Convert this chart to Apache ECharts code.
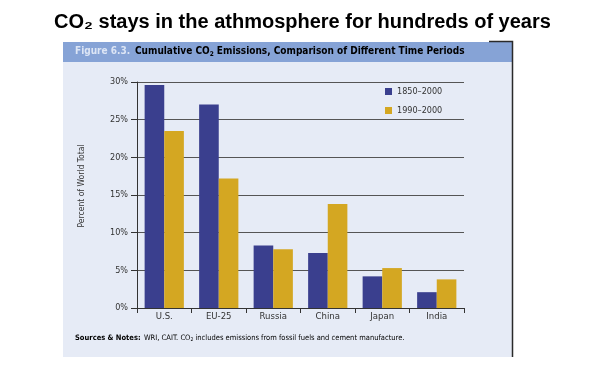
<!DOCTYPE html>
<html>
<head>
<meta charset="utf-8">
<script src="https://cdn.jsdelivr.net/npm/echarts@6/dist/echarts.min.js"></script>
<style>
html,body{margin:0;padding:0;background:#fff;}
#chart{width:605px;height:368px;}
</style>
</head>
<body>
<div id="chart"></div>
<script>
var categories = ['U.S.', 'EU-25', 'Russia', 'China', 'Japan', 'India'];
var seriesNames = ['1850\u20132000', '1990\u20132000'];
var values1850 = [29.6, 27.0, 8.3, 7.3, 4.2, 2.1];
var values1990 = [23.5, 17.2, 7.8, 13.8, 5.3, 3.8];
var yTicks = [0, 5, 10, 15, 20, 25, 30];

var FONT = '"Liberation Sans Narrow", "DejaVu Sans Condensed", "Liberation Sans", sans-serif';
var chart = echarts.init(document.getElementById('chart'), null, {renderer: 'canvas'});

var option = {
  backgroundColor: '#ffffff',
  animation: false,
  title: {
    text: 'CO\u2082 stays in the athmosphere for hundreds of years',
    left: 'center',
    top: 7,
    textStyle: {fontFamily: '"Liberation Sans", Arial, sans-serif', fontWeight: 'bold', fontSize: 20, color: '#000'}
  },
  graphic: [
    {type: 'rect', z: -10, shape: {x: 63, y: 42, width: 449, height: 315}, style: {fill: '#e6ebf6'}},
    {type: 'rect', z: -9, shape: {x: 63, y: 42, width: 449, height: 20}, style: {fill: '#86a3d6'}},
    {type: 'polyline', z: -8, shape: {points: [[489, 41.5], [512.5, 41.5], [512.5, 357]]}, style: {stroke: '#2a2a2a', lineWidth: 1.5, fill: null}},
    {type: 'text', z: 5, left: 75, top: 46.5, style: {text: 'Figure 6.3.', font: 'bold 10px ' + FONT, fill: '#dce5f5'}},
    {type: 'text', z: 5, left: 135, top: 46.5, style: {
      text: '{a|Cumulative CO}{s|2}{a| Emissions, Comparison of Different Time Periods}',
      rich: {
        a: {fontFamily: FONT, fontWeight: 'bold', fontSize: 10, color: '#1c2a5c'},
        s: {fontFamily: FONT, fontWeight: 'bold', fontSize: 6.5, color: '#1c2a5c', padding: [5, 0, 0, 0]}
      }
    }},
    {type: 'text', z: 5, left: 75, top: 332, style: {
      text: '{b|Sources & Notes:} {a|WRI, CAIT. CO}{s|2}{a| includes emissions from fossil fuels and cement manufacture.}',
      rich: {
        b: {fontFamily: FONT, fontWeight: 'bold', fontSize: 7.5, color: '#222'},
        a: {fontFamily: FONT, fontSize: 7.5, color: '#222'},
        s: {fontFamily: FONT, fontSize: 5, color: '#222', padding: [4, 0, 0, 0]}
      }
    }}
  ],
  legend: {
    data: seriesNames,
    orient: 'vertical',
    left: 385,
    top: 87,
    padding: 0,
    itemWidth: 7,
    itemHeight: 7,
    itemGap: 10,
    icon: 'rect',
    textStyle: {fontFamily: FONT, fontSize: 9, color: '#333'}
  },
  grid: {left: 137, right: 141, top: 82, bottom: 60, containLabel: false},
  xAxis: {
    type: 'category',
    data: categories,
    axisLine: {show: true, lineStyle: {color: '#333', width: 1}},
    axisTick: {show: true, length: 5, lineStyle: {color: '#333'}, alignWithLabel: false},
    axisLabel: {fontFamily: FONT, fontSize: 9.5, color: '#333', margin: 4}
  },
  yAxis: {
    type: 'value',
    min: 0,
    max: 30,
    interval: 5,
    name: 'Percent of World Total',
    nameLocation: 'middle',
    nameGap: 51,
    nameTextStyle: {fontFamily: FONT, fontSize: 8.5, color: '#333', padding: [0, 0, 0, 18]},
    axisLine: {show: true, lineStyle: {color: '#333', width: 1}},
    axisTick: {show: true, length: 6, lineStyle: {color: '#333'}},
    axisLabel: {fontFamily: FONT, fontSize: 9, color: '#333', margin: 9,
      formatter: function (v) { return yTicks.indexOf(v) >= 0 ? v + '%' : ''; }},
    splitLine: {show: true, lineStyle: {color: '#555', width: 1}}
  },
  series: [
    {name: seriesNames[0], type: 'bar', data: values1850, barGap: '0%', barCategoryGap: '28%',
      itemStyle: {color: '#3a3f8e'}},
    {name: seriesNames[1], type: 'bar', data: values1990, barGap: '0%', barCategoryGap: '28%',
      itemStyle: {color: '#d4a722'}}
  ]
};
chart.setOption(option);
</script>
</body>
</html>
